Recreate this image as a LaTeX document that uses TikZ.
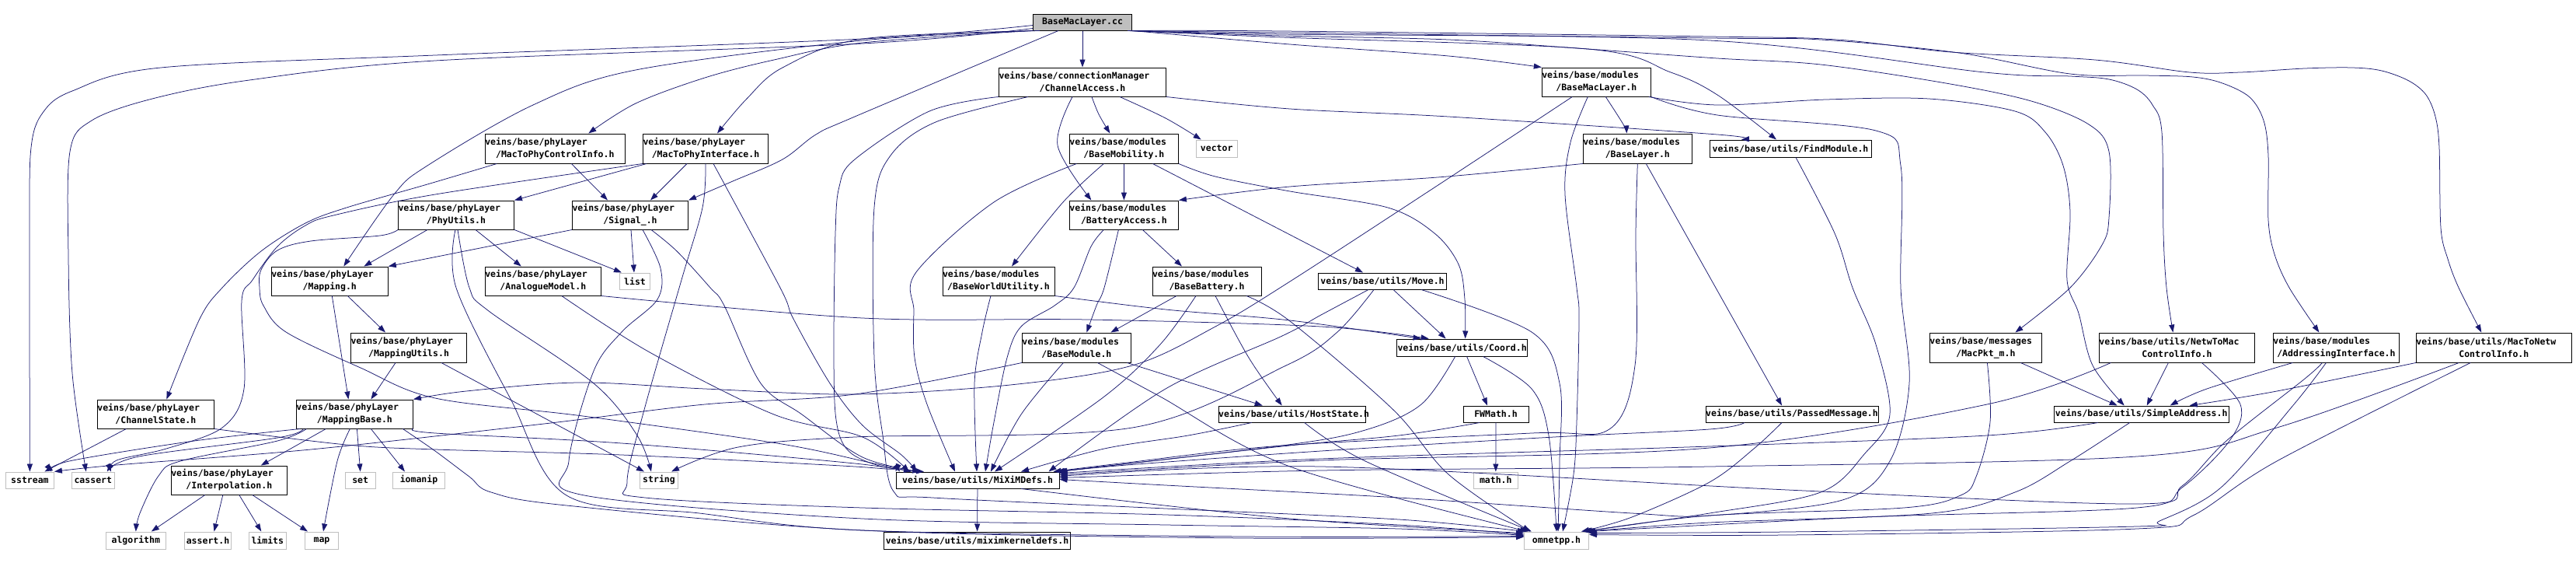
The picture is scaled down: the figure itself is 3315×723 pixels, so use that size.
\documentclass[tikz,border=0pt]{standalone}
\usepackage{fontspec}
\usetikzlibrary{arrows.meta}
\newfontfamily\dxmono{DejaVu Sans Mono}
\newcommand\dxfont{\dxmono\bfseries\fontsize{11.5pt}{16pt}\selectfont}
\newcommand\firstln[1]{\noindent\makebox[\hsize][l]{#1}}
\definecolor{eb}{HTML}{191970}
\definecolor{sysgray}{HTML}{BFBFBF}
\tikzset{
  base/.style={line width=1pt, fill=white, inner xsep=0pt, inner ysep=0pt, align=center, font=\dxfont, text=black, execute at begin node={\noindent}},
  doc/.style={base, draw=black},
  sys/.style={base, draw=sysgray},
  rootn/.style={base, draw=black, fill=sysgray},
  sz/.style 2 args={text width=#1pt, minimum height=#2pt},
  e/.style={draw=eb, line width=0.75pt, -{Triangle[length=10pt,width=7pt]}}
}
\newcommand\edg[1]{\draw[e] plot[smooth,tension=0.55] coordinates {#1};}
\begin{document}
\begin{tikzpicture}[x=1pt,y=-1pt]
\fill[white] (0,0) rectangle (3315,723);
\useasboundingbox (0,0) rectangle (3315,723);
% nodes
\node[rootn, sz={127}{21}] (root) at (1393,28.5) {BaseMacLayer.cc};
\node[doc, sz={215}{37}] (CA) at (1393,105.5) {\firstln{veins/base/connectionManager}\\/ChannelAccess.h};
\node[doc, sz={140}{37}] (BML) at (2054.3,105.5) {\firstln{veins/base/modules}\\/BaseMacLayer.h};
\node[doc, sz={180}{38}] (M2PC) at (714.3,191) {\firstln{veins/base/phyLayer}\\/MacToPhyControlInfo.h};
\node[doc, sz={161}{38}] (M2PI) at (908,191) {\firstln{veins/base/phyLayer}\\/MacToPhyInterface.h};
\node[doc, sz={140}{38}] (BMob) at (1446.4,191) {\firstln{veins/base/modules}\\/BaseMobility.h};
\node[sys, sz={53}{22}] (vector) at (1565.7,191) {vector};
\node[doc, sz={140}{38}] (BL) at (2107.3,191) {\firstln{veins/base/modules}\\/BaseLayer.h};
\node[doc, sz={208}{22}] (FM) at (2304,191) {veins/base/utils/FindModule.h};
\node[doc, sz={149}{37}] (PU) at (587,276.5) {\firstln{veins/base/phyLayer}\\/PhyUtils.h};
\node[doc, sz={149}{37}] (Sig) at (811,276.5) {\firstln{veins/base/phyLayer}\\/Signal\_.h};
\node[doc, sz={140}{37}] (BA) at (1446.4,276.5) {\firstln{veins/base/modules}\\/BatteryAccess.h};
\node[doc, sz={150}{37}] (Map) at (424.3,361.5) {\firstln{veins/base/phyLayer}\\/Mapping.h};
\node[doc, sz={149}{37}] (AM) at (698.8,361.5) {\firstln{veins/base/phyLayer}\\/AnalogueModel.h};
\node[sys, sz={39}{21}] (list) at (817,361.5) {list};
\node[doc, sz={144}{37}] (BWU) at (1285,361.5) {\firstln{veins/base/modules}\\/BaseWorldUtility.h};
\node[doc, sz={140}{37}] (BB) at (1553,361.5) {\firstln{veins/base/modules}\\/BaseBattery.h};
\node[doc, sz={165}{21}] (Move) at (1779,361.5) {veins/base/utils/Move.h};
\node[doc, sz={149}{38}] (MU) at (526,447) {\firstln{veins/base/phyLayer}\\/MappingUtils.h};
\node[doc, sz={140}{38}] (BMod) at (1385.4,447) {\firstln{veins/base/modules}\\/BaseModule.h};
\node[doc, sz={168}{22}] (Coord) at (1881.6,447) {veins/base/utils/Coord.h};
\node[doc, sz={144}{38}] (MacPkt) at (2555.4,447) {\firstln{veins/base/messages}\\/MacPkt\_m.h};
\node[doc, sz={200}{38}] (N2M) at (2801.4,447) {\firstln{veins/base/utils/NetwToMac}\\ControlInfo.h};
\node[doc, sz={162}{38}] (AI) at (3006.4,447) {\firstln{veins/base/modules}\\/AddressingInterface.h};
\node[doc, sz={200}{38}] (M2N) at (3209.3,447) {\firstln{veins/base/utils/MacToNetw}\\ControlInfo.h};
\node[doc, sz={150}{37}] (CS) at (200.4,532.5) {\firstln{veins/base/phyLayer}\\/ChannelState.h};
\node[doc, sz={150}{37}] (MB) at (456.4,532.5) {\firstln{veins/base/phyLayer}\\/MappingBase.h};
\node[doc, sz={189}{21}] (HS) at (1662.7,532.5) {veins/base/utils/HostState.h};
\node[doc, sz={84}{21}] (FW) at (1925,532.5) {FWMath.h};
\node[doc, sz={222}{21}] (PM) at (2306,532.5) {veins/base/utils/PassedMessage.h};
\node[doc, sz={225}{21}] (SA) at (2755.7,532.5) {veins/base/utils/SimpleAddress.h};
\node[doc, sz={149}{37}] (Interp) at (294.8,617.5) {\firstln{veins/base/phyLayer}\\/Interpolation.h};
\node[sys, sz={62}{21}] (sstream) at (38.4,617.5) {sstream};
\node[sys, sz={55}{21}] (cassert) at (119.8,617.5) {cassert};
\node[sys, sz={39}{21}] (set) at (463.7,617.5) {set};
\node[sys, sz={67}{21}] (iomanip) at (539,617.5) {iomanip};
\node[sys, sz={49}{21}] (string) at (848,617.5) {string};
\node[doc, sz={210}{21}] (MD) at (1258,617.5) {veins/base/utils/MiXiMDefs.h};
\node[sys, sz={57}{21}] (math) at (1924.8,617.5) {math.h};
\node[sys, sz={77}{22}] (algorithm) at (174.8,695) {algorithm};
\node[sys, sz={60}{22}] (asserth) at (267.5,695) {assert.h};
\node[sys, sz={48}{22}] (limits) at (344.3,695) {limits};
\node[sys, sz={43}{22}] (map) at (414,695) {map};
\node[doc, sz={240}{22}] (MKD) at (1257.5,695) {veins/base/utils/miximkerneldefs.h};
\node[sys, sz={83}{22}] (omnetpp) at (2003,695) {omnetpp.h};
% edges from root
\draw[e] (root) -- (CA);
\edg{(root.south east) (1660,57) (1864,72) (BML.north west)}
\edg{(root.south west) (1110,55) (996,77) (907,100) (818,133) ([xshift=43pt]M2PC.north)}
\edg{([xshift=-55pt]root.south) (1110,50) (1007,87) (961,127) ([xshift=15pt]M2PI.north)}
\edg{([xshift=-31pt]root.south) (1100,150) (1050,173) (1007,205) (943,233) (Sig.north east)}
\edg{(root.south west) (1110,52) (818,90) (686,135) (550,213) (507,250) ([xshift=18pt]Map.north)}
\edg{([yshift=-4pt]root.west) (1110,50) (560,71) (207,87) (93,117) (55,145) (40,190) (38,300) (sstream.north)}
\edg{([yshift=-8pt]root.west) (1110,56) (560,78) (321,103) (196,127) (118,155) (90,195) (88,330) (93,480) ([xshift=-9pt]cassert.north)}
\edg{([xshift=-6pt]root.south east) (1650,48) (2043,63) (2150,93) (2210,122) ([xshift=-18pt]FM.north)}
\edg{([xshift=-5pt]root.south east) (1650,46) (1864,51) (2043,63) (2210,75) (2343,83) (2504,107) (2614,130) (2688,160) (2714,195) (2714,280) (2705,315) (2664,370) ([xshift=38pt]MacPkt.north)}
\edg{([xshift=-4pt]root.south east) (1650,44) (2200,52) (2554,93) (2664,98) (2714,102) (2750,115) (2770,135) (2782,170) (2784,300) (2788,370) ([xshift=-5pt]N2M.north)}
\edg{([xshift=-3pt]root.south east) (1650,42) (2200,49) (2343,51) (2521,68) (2664,95) (2760,97) (2822,99) (2860,107) (2895,125) (2913,155) (2919,200) (2919,283) (2927,327) (2946,370) ([xshift=-22pt]AI.north)}
\edg{([xshift=-2pt]root.south east) (1650,40) (2200,47) (2364,51) (2511,67) (2696,77) (2818,93) (2883,93) (2966,88) (3027,87) (3065,91) (3100,104) (3122,122) (3134,150) (3139,190) (3141,293) (3150,333) (3164,370) ([xshift=-16pt]M2N.north)}
% ChannelAccess
\edg{(CA.south west) (1196,143) (1100,205) (1080,240) (1075,300) (1073,450) (1076,540) (1092,580) (1135,600) ([xshift=-69pt]MD.north)}
\edg{([xshift=-70pt]CA.south) (1204,157) (1146,200) (1125,267) (1125,460) (1136,560) (1150,632) (1200,640) (1500,654) (1800,668) ([xshift=2pt]omnetpp.north west)}
\edg{([xshift=-13pt]CA.south) (1361,187) ([xshift=-42pt]BA.north)}
\edg{([xshift=12pt]CA.south) (1414,147) ([xshift=-18pt]BMob.north)}
\edg{([xshift=48pt]CA.south) (1500,152) ([xshift=-20pt]vector.north)}
\edg{(CA.south east) (1660,140) (1864,150) (2210,173) ([xshift=-63pt]FM.north)}
% BaseMacLayer.h
\edg{([xshift=-31pt]BML.south) (1840,245) (1660,362) (1564,420) (1457,470) (1300,495) (1100,507) (907,500) (745,492) (600,503) (MB.north east)}
\edg{([xshift=-11pt]BML.south) (2021,183) (2014,250) (2029,370) (2032,410) (2029,543) (2025,610) ([xshift=8pt]omnetpp.north)}
\edg{([xshift=12pt]BML.south) (2089,160) ([xshift=-14pt]BL.north)}
\edg{([xshift=-3pt]BML.south east) (2210,135) (2350,128) (2482,127) (2593,143) (2632,170) (2655,213) (2664,273) (2660,360) (2675,403) (2693,470) ([xshift=-22pt]SA.north)}
\edg{(BML.south east) (2210,148) (2414,168) (2446,213) (2446,370) (2457,493) (2432,593) (2371,643) (2200,663) (2100,660) (1800,640) (1500,624) ([yshift=-10pt]MD.north east)}
% BaseLayer
\edg{(BL.south west) (1850,228) (1660,240) (BA.north east)}
\edg{(BL.south) (2105,300) (2104,470) (2071,552) (1971,557) (1650,573) (1450,595) ([xshift=-8pt]MD.north east)}
\draw[e] ([xshift=11pt]BL.south) -- ([xshift=-13pt]PM.north);
% BaseMobility
\edg{([xshift=-61pt]BMob.south) (1279,260) (1179,350) (1176,400) (1177,460) (1193,520) ([xshift=-29pt]MD.north)}
\edg{([xshift=-26pt]BMob.south) (1368,260) ([xshift=17pt]BWU.north)}
\draw[e] (BMob) -- (BA);
\draw[e] ([xshift=37pt]BMob.south) -- ([xshift=-25pt]Move.north);
\edg{(BMob.south east) (1564,227) (1660,246) (1786,267) (1846,300) (1877,340) (1885,385) ([xshift=4pt]Coord.north)}
% BatteryAccess
\edg{([xshift=-26pt]BA.south) (1404,317) (1382,370) (1357,393) (1314,420) (1296,460) (1279,543) ([xshift=10pt]MD.north)}
\edg{([xshift=-7pt]BA.south) (1421,370) (1411,393) ([xshift=13pt]BMod.north)}
\draw[e] ([xshift=24pt]BA.south) -- ([xshift=-32pt]BB.north);
% BaseWorldUtility, AnalogueModel
\edg{([xshift=-10pt]BWU.south) (1264,427) (1254,493) ([xshift=-1pt]MD.north)}
\edg{(BWU.south east) (1500,398) (1660,412) ([xshift=-53pt]Coord.north)}
\edg{(AM.south east) (1110,409) (1400,411) (1700,420) ([xshift=-43pt]Coord.north)}
\edg{([xshift=24pt]AM.south) (836,453) (996,533) (1110,562) ([xshift=-88pt]MD.north)}
% BaseBattery
\draw[e] ([xshift=-39pt]BB.south) -- ([xshift=44pt]BMod.north);
\edg{([xshift=-14pt]BB.south) (1493,443) (1421,510) ([xshift=22pt]MD.north)}
\edg{([xshift=11pt]BB.south) (1607,460) ([xshift=-13pt]HS.north)}
\edg{([xshift=51pt]BB.south) (1660,413) (1793,527) (1864,610) ([xshift=8pt]omnetpp.north west)}
% BaseModule
\edg{(BMod.south west) (1100,507) (907,520) (700,545) (400,578) (150,598) (sstream.north east)}
\edg{([xshift=-17pt]BMod.south) (1314,533) ([xshift=17pt]MD.north)}
\edg{([xshift=27pt]BMod.south) (1493,510) (1660,600) ([xshift=5pt]omnetpp.north west)}
\draw[e] ([xshift=65pt]BMod.south) -- ([xshift=-38pt]HS.north);
% HostState
\edg{([xshift=-52pt]HS.south) (1529,560) (1421,577) ([xshift=56pt]MD.north)}
\edg{([xshift=16pt]HS.south) (1757,593) ([xshift=10pt]omnetpp.north west)}
% Move
\edg{([xshift=-11pt]Move.south) (1721,427) (1655,470) (1457,550) (1100,562) (950,575) ([xshift=16pt]string.north)}
\edg{([xshift=-18pt]Move.south) (1700,405) (1650,432) (1500,500) ([xshift=-14pt]MD.north east)}
\draw[e] ([xshift=14pt]Move.south) -- ([xshift=-21pt]Coord.north);
\edg{([xshift=50pt]Move.south) (1971,427) (2007,493) (2007,593) ([xshift=2pt]omnetpp.north)}
% Coord
\edg{([xshift=-9pt]Coord.south) (1829,520) (1757,553) (1650,573) ([xshift=-4pt]MD.north east)}
\draw[e] ([xshift=6pt]Coord.south) -- ([xshift=-11pt]FW.north);
\edg{([xshift=27pt]Coord.south) (1971,500) (1993,560) (omnetpp.north)}
% FWMath, MiXiMDefs
\draw[e] (FW) -- (math);
\edg{([xshift=-21pt]FW.south) (1800,560) (1650,574) ([xshift=-2pt]MD.north east)}
\draw[e] (MD) -- (MKD);
\edg{([xshift=56pt]MD.south) (1660,667) ([yshift=-2pt]omnetpp.north west)}
% PassedMessage, MacPkt, SimpleAddress
\edg{([xshift=-61pt]PM.south) (2200,552) (2000,562) (1700,580) (1450,598) (MD.north east)}
\edg{([xshift=-13pt]PM.south) (2257,577) (2200,620) (2100,665) ([xshift=-10pt]omnetpp.north east)}
\edg{([xshift=2pt]MacPkt.south) (2561,543) (2543,613) (2523,637) (2450,653) (2200,663) ([xshift=-6pt]omnetpp.north east)}
\draw[e] ([xshift=45pt]MacPkt.south) -- ([xshift=-31pt]SA.north);
\edg{([xshift=-56pt]SA.south) (2557,560) (2200,574) (1700,590) ([yshift=-2pt]MD.north east)}
\edg{([xshift=-15pt]SA.south) (2664,593) (2593,633) (2486,660) (2200,672) ([xshift=-4pt]omnetpp.north east)}
% NetwToMac, AddressingInterface, MacToNetw
\draw[e] ([xshift=-11pt]N2M.south) -- ([xshift=7pt]SA.north);
\edg{([xshift=-85pt]N2M.south) (2557,520) (2200,576) (1700,592) ([yshift=-4pt]MD.north east)}
\edg{([xshift=32pt]N2M.south) (2883,520) (2869,567) (2808,627) (2750,653) (2400,665) ([xshift=-2pt]omnetpp.north east)}
\edg{([xshift=-56pt]AI.south) (2840,500) ([xshift=37pt]SA.north)}
\edg{([xshift=-18pt]AI.south) (2966,487) (2865,567) (2808,625) (2750,648) (2300,630) (1700,600) ([yshift=-6pt]MD.north east)}
\edg{([xshift=-13pt]AI.south) (2952,520) (2858,627) (2779,670) (2750,677) (2300,684) ([yshift=-2pt]omnetpp.north east)}
\edg{(M2N.south west) (2930,503) ([xshift=62pt]SA.north)}
\edg{([xshift=-45pt]M2N.south) (2930,550) (2750,587) (2200,600) (1700,605) ([yshift=-8pt]MD.north east)}
\edg{([xshift=-30pt]M2N.south) (2930,593) (2822,663) (2750,680) (2300,688) ([yshift=-4pt]omnetpp.north east)}
\edg{([xshift=7pt]FM.south) (2361,300) (2384,370) (2414,443) (2432,533) (2400,583) (2343,633) (2200,660) ([xshift=-8pt]omnetpp.north east)}
% MacToPhyControlInfo, MacToPhyInterface
\edg{([xshift=-75pt]M2PC.south) (550,237) (446,267) (393,287) (336,323) (286,370) (257,410) ([xshift=14pt]CS.north)}
\draw[e] ([xshift=21pt]M2PC.south) -- ([xshift=-29pt]Sig.north);
\draw[e] ([xshift=-24pt]M2PI.south) -- ([xshift=26pt]Sig.north);
\draw[e] ([xshift=-76pt]M2PI.south) -- (PU.north east);
\edg{(M2PI.south west) (560,250) (429,277) (393,290) (357,317) (325,360) (311,387) (314,500) (286,550) (214,577) (150,592) ([xshift=23pt]cassert.north)}
\edg{(M2PI.south) (904,267) (877,360) (829,527) (807,620) (830,640) (1110,653) (1500,662) (1800,675) ([yshift=-4pt]omnetpp.north west)}
\edg{([xshift=10pt]M2PI.south) (1004,370) (1021,410) (1068,493) (1110,547) (1160,585) ([xshift=-78pt]MD.north)}
% PhyUtils
\draw[e] ([xshift=-37pt]PU.south) -- ([xshift=44pt]Map.north);
\draw[e] ([xshift=25pt]PU.south) -- ([xshift=-28pt]AM.north);
\draw[e] (PU.south east) -- ([xshift=-17pt]list.north);
\edg{(PU.south west) (489,303) (400,310) (357,322) (336,347) (334,370) (339,393) (368,427) (464,473) (560,512) (750,535) (1000,570) (1120,595) ([xshift=-85pt]MD.north)}
\edg{([xshift=-1pt]PU.south) (587,370) (657,513) (729,637) (900,660) (1110,682) (1600,690) ([yshift=-6pt]omnetpp.north west)}
\edg{([xshift=2pt]PU.south) (604,370) (629,400) (764,493) (820,560) ([xshift=-10pt]string.north)}
% Signal_
\draw[e] (Sig.south west) -- (Map.north east);
\draw[e] ([xshift=1pt]Sig.south) -- ([xshift=-1pt]list.north);
\edg{([xshift=16pt]Sig.south) (850,345) (846,385) (800,427) (764,477) (732,593) (752,637) (1110,667) (1500,675) (1800,680) ([yshift=-5pt]omnetpp.north west)}
\edg{([xshift=27pt]Sig.south) (871,323) (914,370) (932,393) (979,493) (1032,533) (1110,588) ([xshift=-74pt]MD.north)}
% Mapping, MappingUtils
\draw[e] ([xshift=23pt]Map.south) -- ([xshift=-30pt]MU.north);
\edg{([xshift=3pt]Map.south) (432,410) ([xshift=-8pt]MB.north)}
\draw[e] ([xshift=-17pt]MU.south) -- ([xshift=21pt]MB.north);
\draw[e] ([xshift=42pt]MU.south) -- ([xshift=-19pt]string.north);
% ChannelState
\draw[e] ([xshift=-38pt]CS.south) -- ([xshift=19pt]sstream.north);
\edg{(CS.south east) (446,572) (560,578) (800,585) (1100,600) (MD.north west)}
% MappingBase
\edg{([xshift=-70pt]MB.south) (250,567) (89,593) ([xshift=28pt]sstream.north)}
\edg{([xshift=-66pt]MB.south) (357,563) (179,587) ([xshift=18pt]cassert.north)}
\draw[e] ([xshift=-37pt]MB.south) -- ([xshift=41pt]Interp.north);
\edg{([xshift=-62pt]MB.south) (357,567) (232,593) (204,612) (180,660) (algorithm.north)}
\edg{([xshift=-6pt]MB.south) (434,593) ([xshift=2pt]map.north)}
\draw[e] ([xshift=3pt]MB.south) -- (set.north);
\draw[e] ([xshift=21pt]MB.south) -- ([xshift=-18pt]iomanip.north);
\edg{([xshift=62pt]MB.south) (560,580) (604,613) (632,633) (729,650) (1110,682) (1600,692) ([yshift=-7pt]omnetpp.north west)}
\edg{(MB.south east) (560,557) (800,570) (1100,596) ([xshift=-100pt]MD.north)}
% Interpolation
\draw[e] ([xshift=-31pt]Interp.south) -- ([xshift=20pt]algorithm.north);
\draw[e] ([xshift=-8pt]Interp.south) -- ([xshift=8pt]asserth.north);
\draw[e] ([xshift=13pt]Interp.south) -- ([xshift=-8pt]limits.north);
\draw[e] ([xshift=30pt]Interp.south) -- ([xshift=-18pt]map.north);
\end{tikzpicture}
\end{document}
